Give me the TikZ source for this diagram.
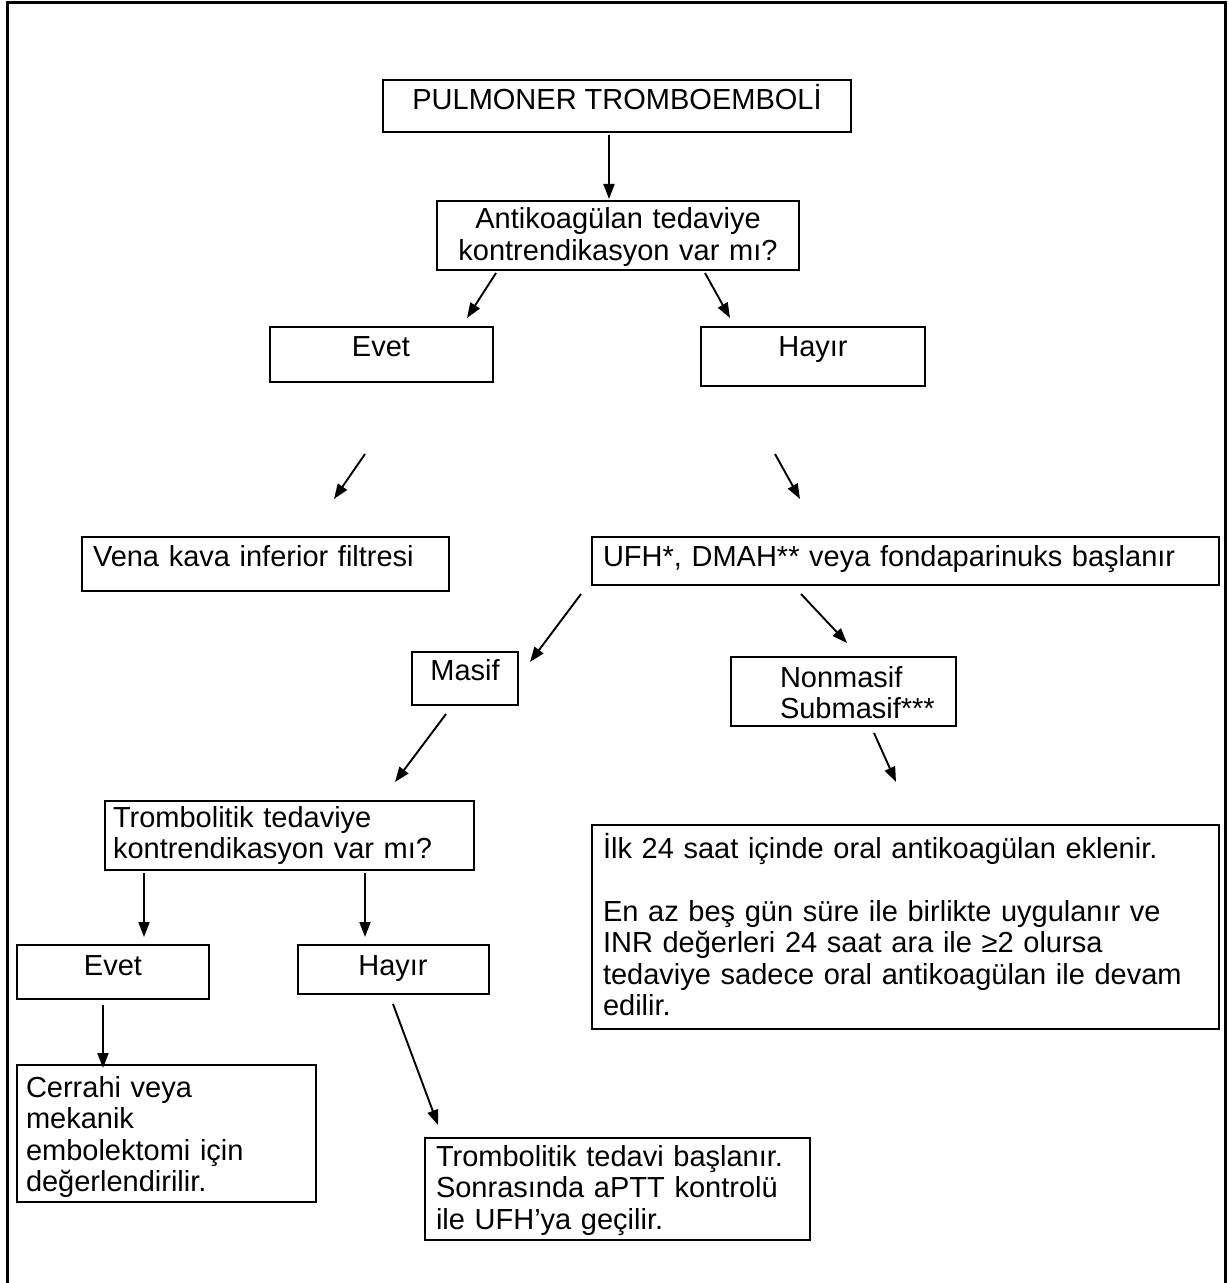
\documentclass[tikz,border=0pt]{standalone}
\usepackage{fontspec}
\setmainfont{Liberation Sans}
\usetikzlibrary{arrows.meta}
\tikzset{
  box/.style={draw, line width=1.2pt, inner sep=0pt, outer sep=0pt, anchor=north west},
  txt/.style={inner sep=0pt, outer sep=0pt, font=\fontsize{14.5}{15.75}\selectfont},
  ltxt/.style={txt, anchor=base west, align=left, text width=#1},
  ctxt/.style={txt, anchor=base, align=center},
  arr/.style={-{Triangle[length=7.5pt,width=5.5pt]}, line width=0.95pt}
}
\begin{document}
\begin{tikzpicture}[x=0.5pt, y=-0.5pt]
\useasboundingbox (0,0) rectangle (1229,1283);
% outer frame
\draw[line width=1.5pt] (7,1295) -- (7,3) -- (1225,3) -- (1225,1295);

% boxes
\node[box, minimum width=234pt, minimum height=26pt] (pte) at (383,80) {};
\node[box, minimum width=181pt, minimum height=34.5pt] (anti) at (437,201) {};
\node[box, minimum width=111.5pt, minimum height=27.5pt] (evet1) at (270,327) {};
\node[box, minimum width=112pt, minimum height=29.5pt] (hayir1) at (701,327) {};
\node[box, minimum width=183.5pt, minimum height=27pt] (vena) at (82,537) {};
\node[box, minimum width=313.5pt, minimum height=24pt] (ufh) at (592,537) {};
\node[box, minimum width=53pt, minimum height=26.5pt] (masif) at (412,652) {};
\node[box, minimum width=112.5pt, minimum height=34.5pt] (nonmasif) at (731,657) {};
\node[box, minimum width=184.5pt, minimum height=34.5pt] (tromb) at (105,801) {};
\node[box, minimum width=313.5pt, minimum height=102pt] (ilk) at (592,825) {};
\node[box, minimum width=96pt, minimum height=27pt] (evet2) at (17,945) {};
\node[box, minimum width=95.5pt, minimum height=24.5pt] (hayir2) at (298,945) {};
\node[box, minimum width=149.5pt, minimum height=68.5pt] (cerrahi) at (17,1065) {};
\node[box, minimum width=192.5pt, minimum height=51pt] (trted) at (425,1138) {};

% texts
\node[ctxt] (pte-t) at (617,110) {PULMONER TROMBOEMBOLİ};
\node[ctxt, text width=181pt] (anti-t) at (618,229) {Antikoagülan tedaviye\\kontrendikasyon var mı?};
\node[ctxt] (evet1-t) at (381,357) {Evet};
\node[ctxt] (hayir1-t) at (813,357) {Hayır};
\node[ltxt=180pt] (vena-t) at (93,566) {Vena kava inferior filtresi};
\node[ltxt=310pt] (ufh-t) at (603,566) {UFH*, DMAH** veya fondaparinuks başlanır};
\node[ctxt] (masif-t) at (465,680) {Masif};
\node[ltxt=100pt] (nonmasif-t) at (780,687) {Nonmasif\\Submasif***};
\node[ltxt=184pt] (tromb-t) at (113,827) {Trombolitik tedaviye\\kontrendikasyon var mı?};
\node[ltxt=305pt] (ilk-t) at (603,858) {İlk 24 saat içinde oral antikoagülan eklenir.\\[15.75pt]En az beş gün süre ile birlikte uygulanır ve\\INR değerleri 24 saat ara ile ≥2 olursa\\tedaviye sadece oral antikoagülan ile devam\\edilir.};
\node[ctxt] (evet2-t) at (113,975) {Evet};
\node[ctxt] (hayir2-t) at (393,975) {Hayır};
\node[ltxt=145pt] (cerrahi-t) at (26,1097) {Cerrahi veya\\mekanik\\embolektomi için\\değerlendirilir.};
\node[ltxt=190pt] (trted-t) at (436,1166) {Trombolitik tedavi başlanır.\\Sonrasında aPTT kontrolü\\ile UFH’ya geçilir.};

% connector end points
\coordinate (a1s) at (609,135);  \coordinate (a1e) at (609,199);
\coordinate (a2s) at (496,273);  \coordinate (a2e) at (467,318);
\coordinate (a3s) at (705,273);  \coordinate (a3e) at (730,318);
\coordinate (a4s) at (365,454);  \coordinate (a4e) at (334,499);
\coordinate (a5s) at (775,454);  \coordinate (a5e) at (800,499);
\coordinate (a6s) at (581,594);  \coordinate (a6e) at (530,662);
\coordinate (a7s) at (801,594);  \coordinate (a7e) at (847,643);
\coordinate (a8s) at (446,714);  \coordinate (a8e) at (395,782);
\coordinate (a9s) at (874,733);  \coordinate (a9e) at (896,782);
\coordinate (a10s) at (144,873); \coordinate (a10e) at (144,937);
\coordinate (a11s) at (365,873); \coordinate (a11e) at (365,937);
\coordinate (a12s) at (103,1005); \coordinate (a12e) at (103,1068);
\coordinate (a13s) at (393,1004); \coordinate (a13e) at (438,1125);

\draw[arr] (a1s) -- (a1e);
\draw[arr] (a2s) -- (a2e);
\draw[arr] (a3s) -- (a3e);
\draw[arr] (a4s) -- (a4e);
\draw[arr] (a5s) -- (a5e);
\draw[arr] (a6s) -- (a6e);
\draw[arr] (a7s) -- (a7e);
\draw[arr] (a8s) -- (a8e);
\draw[arr] (a9s) -- (a9e);
\draw[arr] (a10s) -- (a10e);
\draw[arr] (a11s) -- (a11e);
\draw[arr] (a12s) -- (a12e);
\draw[arr] (a13s) -- (a13e);
\end{tikzpicture}
\end{document}
